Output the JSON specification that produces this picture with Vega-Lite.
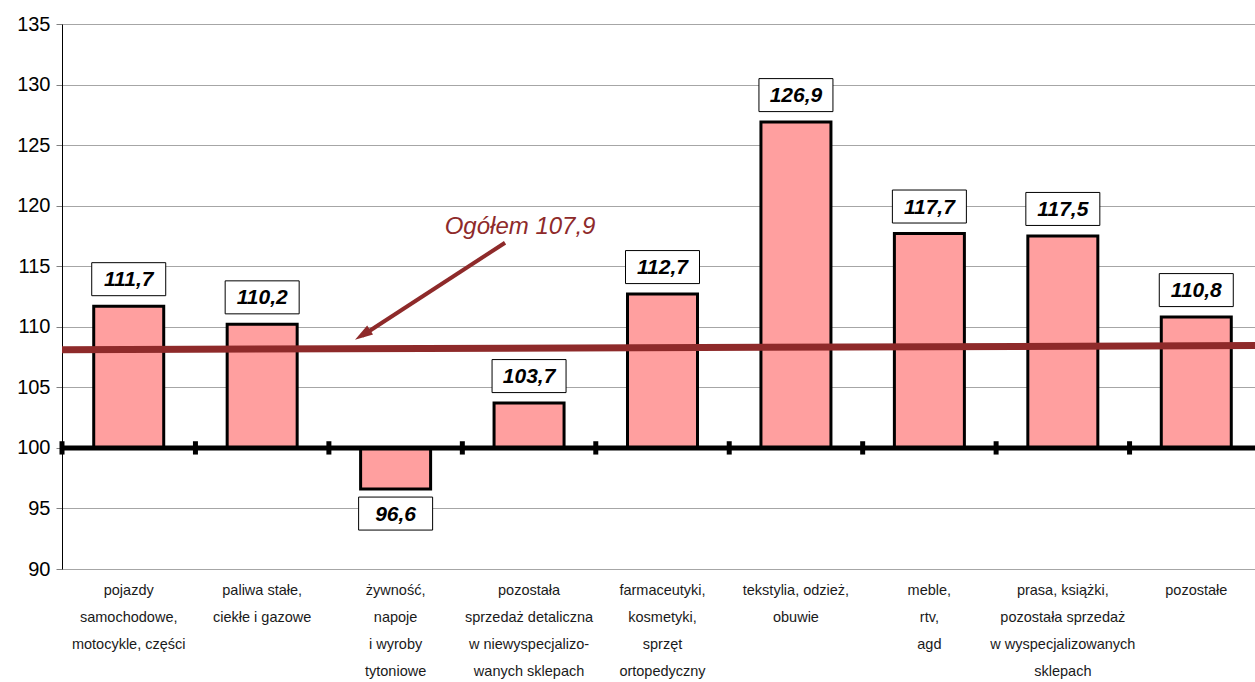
{
  "$schema": "https://vega.github.io/schema/vega-lite/v6.json",
  "autosize": {"type": "none"},
  "padding": {"left": 62, "top": 24, "right": 0, "bottom": 113},
  "width": 1201,
  "height": 545,
  "background": "white",
  "config": {
    "view": {"stroke": null},
    "font": "Liberation Sans"
  },
  "data": {
    "values": [
      {"kat": "pojazdy|samochodowe,|motocykle, części", "wartosc": 111.7},
      {"kat": "paliwa stałe,|ciekłe i gazowe", "wartosc": 110.2},
      {"kat": "żywność,|napoje|i wyroby|tytoniowe", "wartosc": 96.6},
      {"kat": "pozostała|sprzedaż detaliczna|w niewyspecjalizo-|wanych sklepach", "wartosc": 103.7},
      {"kat": "farmaceutyki,|kosmetyki,|sprzęt|ortopedyczny", "wartosc": 112.7},
      {"kat": "tekstylia, odzież,|obuwie", "wartosc": 126.9},
      {"kat": "meble,|rtv,|agd", "wartosc": 117.7},
      {"kat": "prasa, książki,|pozostała sprzedaż|w wyspecjalizowanych|sklepach", "wartosc": 117.5},
      {"kat": "pozostałe", "wartosc": 110.8}
    ]
  },
  "transform": [
    {"calculate": "replace(format(datum.wartosc, '.1f'), '.', ',')", "as": "etykieta"}
  ],
  "layer": [
    {
      "mark": {"type": "bar", "width": 70, "fill": "#ff9f9f", "stroke": "#000000", "strokeWidth": 3},
      "encoding": {
        "x": {
          "field": "kat", "type": "nominal", "sort": null,
          "scale": {"paddingInner": 0, "paddingOuter": 0},
          "axis": {
            "title": null, "labelAngle": 0, "domain": false, "ticks": false,
            "labelExpr": "split(datum.label, '|')",
            "labelFontSize": 14.5, "labelColor": "#1a1a1a", "labelLineHeight": 27,
            "labelPadding": 14, "labelLimit": 0, "labelFont": "Liberation Sans"
          }
        },
        "y": {
          "field": "wartosc", "type": "quantitative",
          "scale": {"domain": [90, 135], "nice": false, "zero": false},
          "axis": {
            "title": null, "values": [90, 95, 100, 105, 110, 115, 120, 125, 130, 135],
            "grid": true, "gridColor": "#a6a6a6", "gridWidth": 1,
            "domainColor": "#000000", "domainWidth": 1,
            "tickColor": "#808080", "tickSize": 6,
            "labelFontSize": 20, "labelColor": "#000000", "labelPadding": 6,
            "labelFont": "Liberation Sans"
          }
        },
        "y2": {"datum": 100}
      }
    },
    {
      "data": {"values": [{}]},
      "mark": {"type": "rule", "color": "#000000", "strokeWidth": 5},
      "encoding": {"y": {"datum": 100}}
    },
    {
      "mark": {"type": "rule", "color": "#000000", "strokeWidth": 5, "xOffset": -66.72},
      "encoding": {
        "x": {"field": "kat", "type": "nominal", "sort": null},
        "y": {"datum": 99.45}, "y2": {"datum": 100.55}
      }
    },
    {
      "data": {"values": [{}]},
      "mark": {"type": "rule", "color": "#8e2a2a", "strokeWidth": 7, "xOffset": -66.72, "x2Offset": 66.72},
      "encoding": {
        "x": {"datum": "pojazdy|samochodowe,|motocykle, części"},
        "x2": {"datum": "pozostałe"},
        "y": {"datum": 108.1},
        "y2": {"datum": 108.45}
      }
    },
    {
      "transform": [{"filter": "datum.wartosc >= 100"}],
      "mark": {"type": "point", "shape": "M-1,-0.446L1,-0.446L1,0.446L-1,0.446Z", "size": 5476, "filled": true, "fill": "#ffffff", "stroke": "#000000", "strokeWidth": 1, "opacity": 1, "yOffset": -27},
      "encoding": {
        "x": {"field": "kat", "type": "nominal", "sort": null},
        "y": {"field": "wartosc", "type": "quantitative"}
      }
    },
    {
      "transform": [{"filter": "datum.wartosc < 100"}],
      "mark": {"type": "point", "shape": "M-1,-0.446L1,-0.446L1,0.446L-1,0.446Z", "size": 5476, "filled": true, "fill": "#ffffff", "stroke": "#000000", "strokeWidth": 1, "opacity": 1, "yOffset": 24.5},
      "encoding": {
        "x": {"field": "kat", "type": "nominal", "sort": null},
        "y": {"field": "wartosc", "type": "quantitative"}
      }
    },
    {
      "transform": [{"filter": "datum.wartosc >= 100"}],
      "mark": {"type": "text", "fontSize": 21, "fontWeight": "bold", "fontStyle": "italic", "color": "#000000", "baseline": "middle", "yOffset": -26},
      "encoding": {
        "x": {"field": "kat", "type": "nominal", "sort": null},
        "y": {"field": "wartosc", "type": "quantitative"},
        "text": {"field": "etykieta"}
      }
    },
    {
      "transform": [{"filter": "datum.wartosc < 100"}],
      "mark": {"type": "text", "fontSize": 21, "fontWeight": "bold", "fontStyle": "italic", "color": "#000000", "baseline": "middle", "yOffset": 25.5},
      "encoding": {
        "x": {"field": "kat", "type": "nominal", "sort": null},
        "y": {"field": "wartosc", "type": "quantitative"},
        "text": {"field": "etykieta"}
      }
    },
    {
      "data": {"values": [{}]},
      "mark": {"type": "rule", "color": "#8e2a2a", "strokeWidth": 4, "xOffset": -24, "x2Offset": -33.6},
      "encoding": {
        "x": {"datum": "pozostała|sprzedaż detaliczna|w niewyspecjalizo-|wanych sklepach"},
        "x2": {"datum": "żywność,|napoje|i wyroby|tytoniowe"},
        "y": {"datum": 116.94},
        "y2": {"datum": 109.26}
      }
    },
    {
      "data": {"values": [{}]},
      "mark": {"type": "point", "shape": "M0,0L0.6,2L-0.6,2Z", "size": 324, "filled": true, "color": "#8e2a2a", "opacity": 1, "angle": 237, "xOffset": -40.6},
      "encoding": {
        "x": {"datum": "żywność,|napoje|i wyroby|tytoniowe"},
        "y": {"datum": 108.93}
      }
    },
    {
      "data": {"values": [{}]},
      "mark": {"type": "text", "text": "Ogółem 107,9", "fontSize": 24, "fontStyle": "italic", "color": "#8e2a2a", "baseline": "middle", "align": "center", "xOffset": -9},
      "encoding": {
        "x": {"datum": "pozostała|sprzedaż detaliczna|w niewyspecjalizo-|wanych sklepach"},
        "y": {"datum": 118.25}
      }
    }
  ]
}
